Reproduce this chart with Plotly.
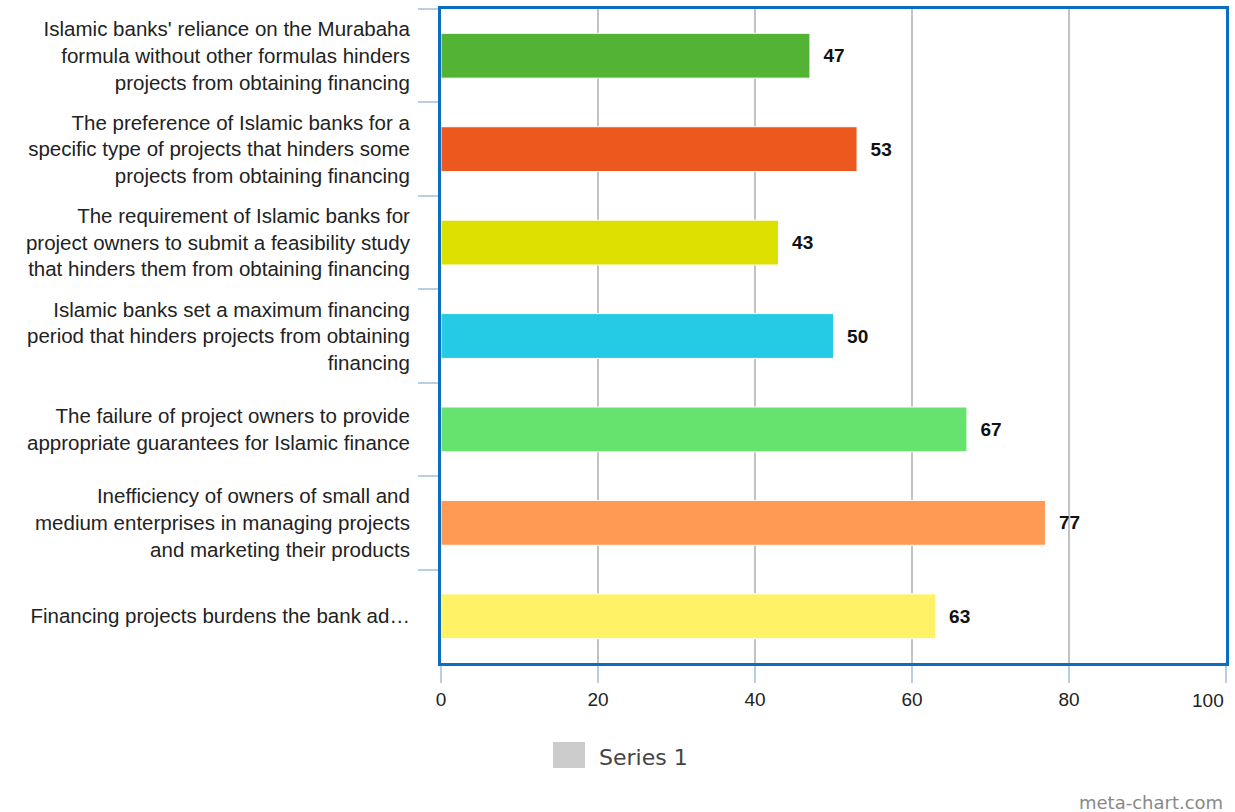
import plotly.graph_objects as go

categories = [
    "Islamic banks' reliance on the Murabaha<br>formula without other formulas hinders<br>projects from obtaining financing",
    "The preference of Islamic banks for a<br>specific type of projects that hinders some<br>projects from obtaining financing",
    "The requirement of Islamic banks for<br>project owners to submit a feasibility study<br>that hinders them from obtaining financing",
    "Islamic banks set a maximum financing<br>period that hinders projects from obtaining<br>financing",
    "The failure of project owners to provide<br>appropriate guarantees for Islamic finance",
    "Inefficiency of owners of small and<br>medium enterprises in managing projects<br>and marketing their products",
    "Financing projects burdens the bank ad…",
]
values = [47, 53, 43, 50, 67, 77, 63]
bar_colors = ["#52B334", "#EC581E", "#DDE000", "#25CBE4", "#66E36F", "#FF9A55", "#FFF266"]
x_ticks = [0, 20, 40, 60, 80, 100]
x_tick_labels = ["0", "20", "40", "60", "80", ""]
last_tick_label = "100"
series_name = "Series 1"

fig = go.Figure()
fig.add_trace(go.Bar(
    y=categories,
    x=values,
    orientation="h",
    marker=dict(color=bar_colors, line=dict(color="white", width=1)),
    text=["\u00a0\u00a0" + str(v) for v in values],
    textposition="outside",
    textfont=dict(family="Liberation Sans", size=19, color="#111111", weight="bold",
                  shadow="0px 0px 2px white"),
    constraintext="none",
    cliponaxis=False,
    showlegend=False,
    name=series_name,
))

fig.update_layout(
    width=1235,
    height=812,
    margin=dict(l=441, r=9, t=9, b=149, autoexpand=False),
    paper_bgcolor="white",
    plot_bgcolor="white",
    bargap=0.52,
    font=dict(family="Liberation Sans", size=18, color="#222222"),
    xaxis=dict(
        range=[0, 100],
        tickvals=x_ticks,
        ticktext=x_tick_labels,
        automargin=False,
        ticks="outside",
        ticklen=17,
        tickwidth=2,
        tickcolor="#B9CDE5",
        tickfont=dict(family="Liberation Sans", size=19, color="#222222"),
        showgrid=True,
        gridcolor="#C3C3C3",
        gridwidth=2,
        zeroline=False,
        showline=True,
        linecolor="#0A6FC2",
        linewidth=3,
        mirror=True,
    ),
    yaxis=dict(
        autorange="reversed",
        categoryorder="array",
        categoryarray=categories,
        automargin=False,
        tickson="boundaries",
        ticks="outside",
        ticklen=20,
        tickwidth=2,
        tickcolor="#B9CDE5",
        ticklabelstandoff=24,
        tickfont=dict(family="Liberation Sans", size=20.5, color="#222222"),
        showgrid=False,
        zeroline=False,
        showline=True,
        linecolor="#0A6FC2",
        linewidth=3,
        mirror=True,
    ),
    shapes=[
        dict(type="rect", xref="paper", yref="paper",
             x0=(553 - 441) / 785, x1=(585 - 441) / 785,
             y0=(663 - 742) / 654, y1=(663 - 768) / 654,
             fillcolor="#CCCCCC", line=dict(width=0)),
    ],
    annotations=[
        dict(text=last_tick_label, xref="x", yref="paper",
             x=x_ticks[-1], y=(663 - 700) / 654,
             xanchor="right", yanchor="middle", showarrow=False,
             font=dict(family="Liberation Sans", size=19, color="#222222")),
        dict(text=series_name, xref="paper", yref="paper",
             x=(597 - 441) / 785, y=(663 - 757) / 654,
             xanchor="left", yanchor="middle", showarrow=False,
             font=dict(family="DejaVu Sans", size=22, color="#444444")),
        dict(text="meta-chart.com", xref="paper", yref="paper",
             x=(1225 - 441) / 785, y=(663 - 802) / 654,
             xanchor="right", yanchor="middle", showarrow=False,
             font=dict(family="DejaVu Sans", size=18, color="#888888")),
    ],
)

fig.write_html("out.html")
